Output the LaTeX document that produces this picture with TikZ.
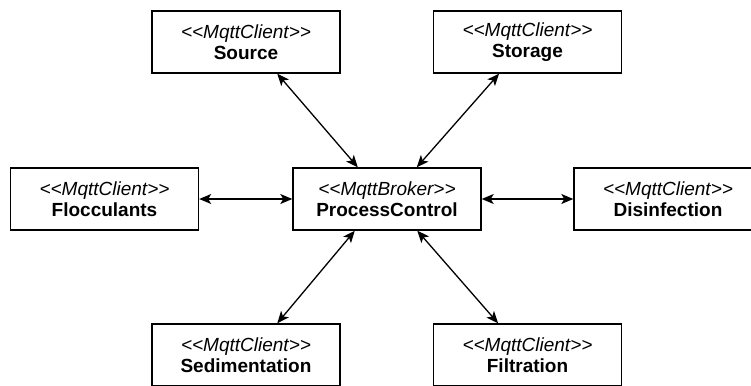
\documentclass[tikz,border=0pt]{standalone}
\usepackage{fontspec}
\setmainfont{Liberation Sans}
\usetikzlibrary{arrows.meta,calc}
\tikzset{
  client/.style={draw, line width=1.4pt, rectangle, minimum width=188pt, minimum height=62pt,
    inner sep=0pt, align=center, font=\fontsize{19}{22}\selectfont, fill=white},
  link/.style={line width=1.3pt, {Stealth[length=12pt,width=10pt,inset=3pt]}-{Stealth[length=12pt,width=10pt,inset=3pt]}}
}
\newcommand{\boxtext}[2]{{\itshape <{}<#1>{}>}\\[-1pt]\textbf{#2}}
\begin{document}
\begin{tikzpicture}[x=1pt,y=-1pt]
\useasboundingbox (0,0) rectangle (751,385);
\clip (0,0) rectangle (751,385);
\node[client] (src) at (246,42) {\boxtext{MqttClient}{Source}};
\node[client] (sto) at (527.5,42) {\boxtext{MqttClient}{Storage}};
\node[client] (flo) at (104.5,199) {\boxtext{MqttClient}{Flocculants}};
\node[client] (pc) at (387,199) {\boxtext{MqttBroker}{ProcessControl}};
\node[client] (dis) at (668,199) {\boxtext{MqttClient}{Disinfection}};
\node[client] (sed) at (246,355) {\boxtext{MqttClient}{Sedimentation}};
\node[client] (fil) at (527.5,355) {\boxtext{MqttClient}{Filtration}};
\draw[link] ($(src.south west)!0.665!(src.south east)$) -- ($(pc.north west)!0.346!(pc.north east)$);
\draw[link] ($(sto.south west)!0.35!(sto.south east)$) -- ($(pc.north west)!0.657!(pc.north east)$);
\draw[link] ($(sed.north west)!0.665!(sed.north east)$) -- ($(pc.south west)!0.33!(pc.south east)$);
\draw[link] ($(fil.north west)!0.345!(fil.north east)$) -- ($(pc.south west)!0.66!(pc.south east)$);
\draw[link] (flo.east) -- (pc.west);
\draw[link] (pc.east) -- (dis.west);
\end{tikzpicture}
\end{document}
